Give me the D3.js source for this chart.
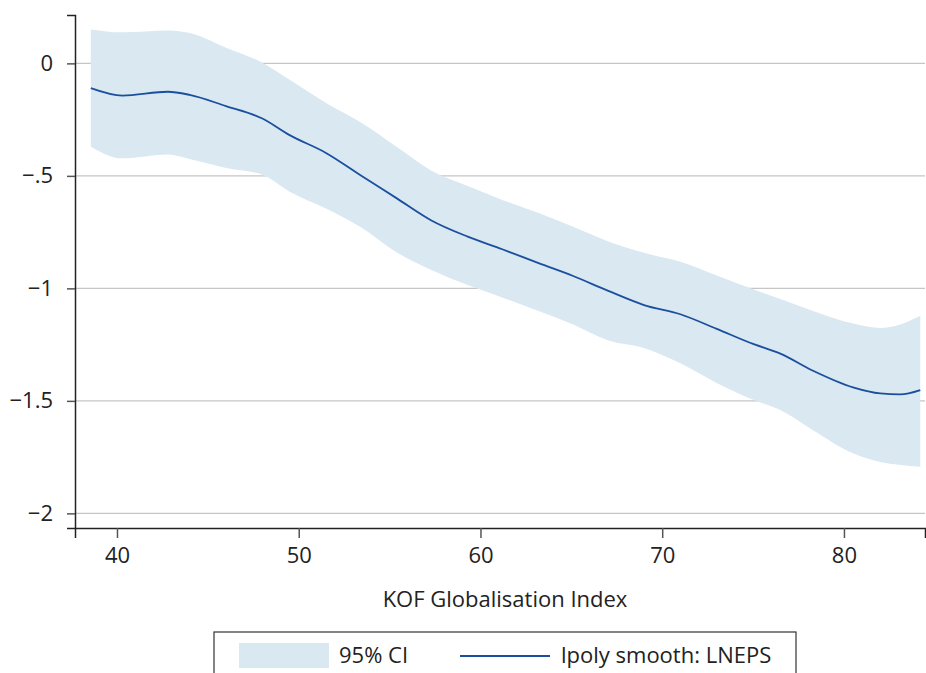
<!DOCTYPE html>
<html>
<head>
<meta charset="utf-8">
<script src="https://cdn.jsdelivr.net/npm/d3@7"></script>
<style>
  body { margin: 0; background: #fff; }
  svg { display: block; font-family: "Open Sans", sans-serif; }
</style>
</head>
<body>
<div id="chart"></div>
<script>
var width = 926,
    height = 673;

// KOF index values where the smooth was read
var kof = [38.56, 40.3, 42.8, 44.0, 46.0, 48.0, 49.5, 51.5, 53.4, 55.4, 57.3, 59.3, 61.2,
           63.2, 65.1, 67.0, 69.0, 71.0, 73.0, 75.0, 76.5, 78.3, 80.5, 82.0, 83.1, 84.2];
// lpoly smooth of LNEPS
var smooth = [-0.11, -0.143, -0.126, -0.14, -0.19, -0.245, -0.319, -0.398, -0.497, -0.6, -0.698, -0.77, -0.826,
              -0.888, -0.945, -1.01, -1.074, -1.115, -1.18, -1.247, -1.29, -1.366, -1.44, -1.467, -1.471, -1.452];
// 95% CI bounds
var ciHigh = [0.151, 0.138, 0.146, 0.135, 0.07, 0.003, -0.073, -0.176, -0.262, -0.372, -0.477, -0.545, -0.607,
              -0.665, -0.726, -0.79, -0.842, -0.882, -0.943, -1.004, -1.047, -1.1, -1.156, -1.176, -1.16, -1.123];
var ciLow = [-0.37, -0.422, -0.405, -0.425, -0.465, -0.495, -0.57, -0.645, -0.727, -0.84, -0.918, -0.985, -1.04,
             -1.1, -1.16, -1.23, -1.265, -1.333, -1.42, -1.495, -1.541, -1.63, -1.733, -1.772, -1.785, -1.793];

var xTicks = [40, 50, 60, 70, 80];
var yTicks = [0, -0.5, -1, -1.5, -2];

var data = kof.map(function (k, i) {
    return { x: k, y: smooth[i], lo: ciLow[i], hi: ciHigh[i] };
});

var margin = { left: 75, right: 1, top: 15, bottom: 145 };
var fontSize = 22;

var x = d3.scaleLinear()
    .domain([37.69, 84.46])
    .range([margin.left, width - margin.right]);

var y = d3.scaleLinear()
    .domain([-2.065, 0.215])
    .range([528, margin.top]);

var svg = d3.select("#chart").append("svg")
    .attr("width", width)
    .attr("height", height);

// gridlines
svg.append("g")
    .selectAll("line")
    .data(yTicks)
    .join("line")
    .attr("x1", margin.left)
    .attr("x2", width - margin.right)
    .attr("y1", d => y(d))
    .attr("y2", d => y(d))
    .attr("stroke", "#c6c6c6")
    .attr("stroke-width", 1.2);

// CI band
svg.append("path")
    .datum(data)
    .attr("fill", "#d9e8f1")
    .attr("d", d3.area()
        .curve(d3.curveMonotoneX)
        .x(d => x(d.x))
        .y0(d => y(d.lo))
        .y1(d => y(d.hi)));

// smooth line
svg.append("path")
    .datum(data)
    .attr("fill", "none")
    .attr("stroke", "#1a4f9f")
    .attr("stroke-width", 1.8)
    .attr("d", d3.line()
        .curve(d3.curveMonotoneX)
        .x(d => x(d.x))
        .y(d => y(d.y)));

var fmtY = function (d) {
    if (d === 0) return "0";
    var s = String(Math.abs(d)).replace(/^0\./, ".");
    return "\u2212" + s;
};

// y axis
var yAxis = svg.append("g")
    .attr("transform", `translate(${margin.left},0)`)
    .call(d3.axisLeft(y).tickValues(yTicks).tickSize(8).tickPadding(14).tickFormat(fmtY));

// x axis
var xAxis = svg.append("g")
    .attr("transform", `translate(0,528)`)
    .call(d3.axisBottom(x).tickValues(xTicks).tickSize(10).tickPadding(9).tickFormat(d3.format("d")));

[yAxis, xAxis].forEach(function (ax) {
    ax.select(".domain").attr("stroke", "#222").attr("stroke-width", 1.5);
    ax.selectAll(".tick line").attr("stroke", "#555").attr("stroke-width", 1.5);
    ax.selectAll("text")
        .attr("font-family", "Open Sans, sans-serif")
        .attr("font-size", fontSize)
        .attr("fill", "#222");
});

// x axis title
svg.append("text")
    .attr("x", 505)
    .attr("y", 607)
    .attr("text-anchor", "middle")
    .attr("font-size", fontSize)
    .attr("fill", "#222")
    .text("KOF Globalisation Index");

// legend
var legend = svg.append("g");

legend.append("rect")
    .attr("x", 214)
    .attr("y", 632)
    .attr("width", 582)
    .attr("height", 60)
    .attr("fill", "none")
    .attr("stroke", "#333")
    .attr("stroke-width", 1.2);

legend.append("rect")
    .attr("x", 239)
    .attr("y", 643)
    .attr("width", 90)
    .attr("height", 25)
    .attr("fill", "#d9e8f1");

legend.append("text")
    .attr("x", 339)
    .attr("y", 663)
    .attr("font-size", fontSize)
    .attr("fill", "#222")
    .text("95% CI");

legend.append("line")
    .attr("x1", 460)
    .attr("x2", 550)
    .attr("y1", 656)
    .attr("y2", 656)
    .attr("stroke", "#1a4f9f")
    .attr("stroke-width", 1.8);

legend.append("text")
    .attr("x", 561)
    .attr("y", 663)
    .attr("font-size", fontSize)
    .attr("fill", "#222")
    .text("lpoly smooth: LNEPS");
</script>
</body>
</html>
